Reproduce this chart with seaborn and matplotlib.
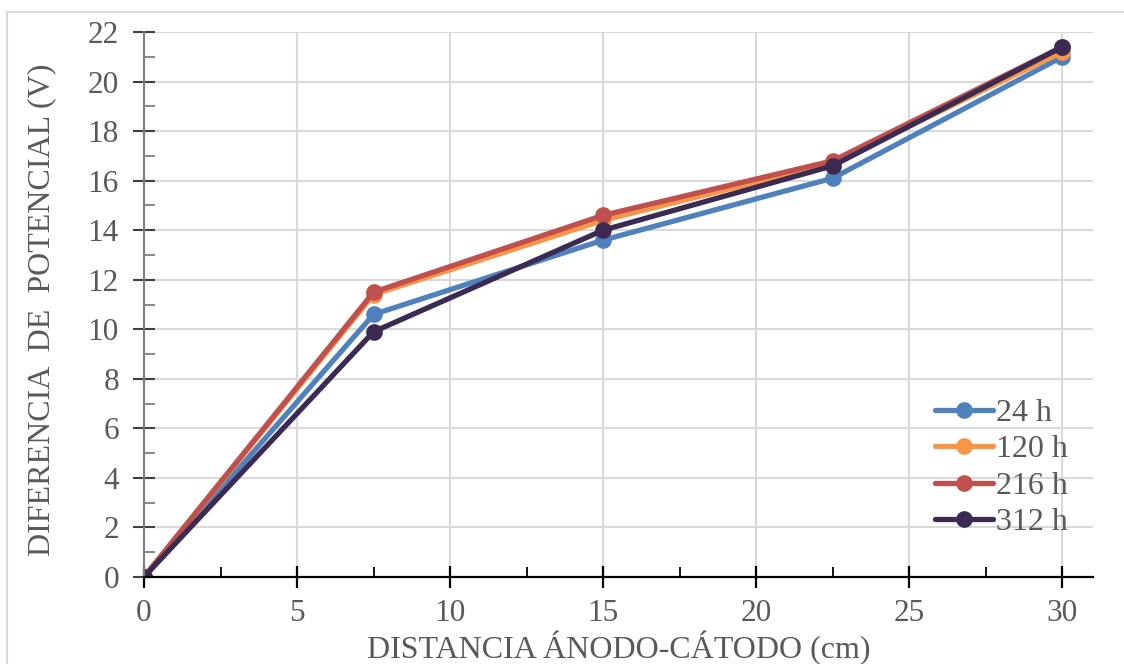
import matplotlib
matplotlib.use("Agg")
import matplotlib.pyplot as plt
import pandas as pd
import seaborn as sns
from matplotlib.patches import Rectangle
from matplotlib.ticker import MultipleLocator

# values
distance = [0, 7.5, 15, 22.5, 30]
v_24h = [0, 10.6, 13.6, 16.1, 21.0]
v_120h = [0, 11.4, 14.4, 16.7, 21.2]
v_216h = [0, 11.5, 14.6, 16.8, 21.4]
v_312h = [0, 9.9, 14.0, 16.6, 21.4]
series_names = ["24 h", "120 h", "216 h", "312 h"]
series_colors = ["#4F81BD", "#F79646", "#C0504D", "#3B2B52"]

sns.set_theme(style="white")
plt.rcParams["font.family"] = ["Liberation Serif", "DejaVu Serif"]

TEXT_GRAY = "#595959"
FONT_SIZE = 23

frames = []
for name, values in zip(series_names, [v_24h, v_120h, v_216h, v_312h]):
    frames.append(pd.DataFrame({"distance": distance, "voltage": values, "series": name}))
df = pd.concat(frames, ignore_index=True)

fig = plt.figure(figsize=(11.24, 6.64), dpi=100)
fig.patches.append(
    Rectangle((7 / 1124, -0.1), 1.2, 1 - 12 / 664 + 0.1, transform=fig.transFigure,
              fill=False, edgecolor="#D9D9D9", linewidth=1.5)
)
ax = fig.add_axes([144 / 1124, 1 - 577 / 664, (1093 - 144) / 1124, (577 - 32) / 664])

sns.lineplot(
    data=df,
    x="distance",
    y="voltage",
    hue="series",
    hue_order=series_names,
    palette=series_colors,
    marker="o",
    markersize=12,
    markeredgewidth=0,
    linewidth=3.8,
    ax=ax,
    legend=True,
)

ax.set_xlim(0, 31)
ax.set_ylim(0, 22)
ax.xaxis.set_major_locator(MultipleLocator(5))
ax.xaxis.set_minor_locator(MultipleLocator(2.5))
ax.yaxis.set_major_locator(MultipleLocator(2))
ax.yaxis.set_minor_locator(MultipleLocator(1))
ax.grid(True, which="major", color="#D9D9D9", linewidth=1.5)
ax.set_axisbelow(True)

for side in ["top", "right"]:
    ax.spines[side].set_visible(False)
ax.spines["bottom"].set_color("black")
ax.spines["bottom"].set_linewidth(1.6)
ax.spines["left"].set_color("#7F7F7F")
ax.spines["left"].set_linewidth(1.5)

ax.tick_params(axis="x", which="major", direction="inout", length=16, width=1.6,
               color="black", labelsize=22.5, labelcolor=TEXT_GRAY, pad=8, bottom=True)
ax.tick_params(axis="x", which="minor", direction="in", length=7, width=1.3,
               color="black", bottom=True)
ax.tick_params(axis="y", which="major", direction="inout", length=16, width=1.5,
               color="#404040", labelsize=22.5, labelcolor=TEXT_GRAY, pad=10, left=True)
ax.tick_params(axis="y", which="minor", direction="in", length=8, width=1.3,
               color="#7F7F7F", left=True)

ax.set_xlabel("DISTANCIA ÁNODO-CÁTODO (cm)", fontsize=FONT_SIZE, color=TEXT_GRAY, labelpad=2)
ax.set_ylabel("DIFERENCIA  DE  POTENCIAL (V)", fontsize=FONT_SIZE, color=TEXT_GRAY)
ax.yaxis.set_label_coords(-0.093, 0.49)

leg = ax.legend(
    loc="center left",
    bbox_to_anchor=(0.834, 0.2),
    frameon=False,
    fontsize=FONT_SIZE,
    handlelength=1.8,
    handletextpad=0.1,
    labelspacing=0.22,
    borderaxespad=0,
    borderpad=0,
)
for text in leg.get_texts():
    text.set_color(TEXT_GRAY)

fig.savefig("out.png", dpi=100)
